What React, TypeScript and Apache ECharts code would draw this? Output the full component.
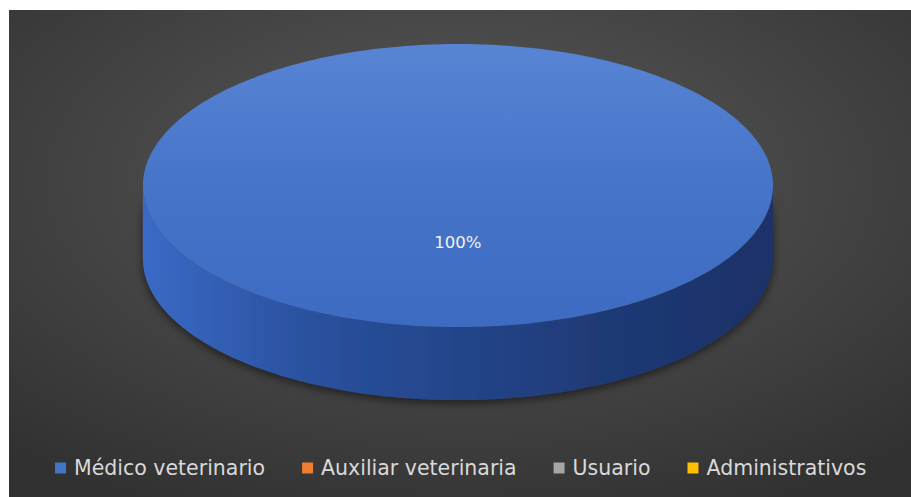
import React, { useEffect, useRef } from "react";
import * as echarts from "echarts";

const categories = ["Médico veterinario", "Auxiliar veterinaria", "Usuario", "Administrativos"];
const values = [100, 0, 0, 0];
const colors = ["#4472c4", "#ed7d31", "#a5a5a5", "#ffc000"];

// geometry of the 3D pie (fractions of chart size)
const GEO = { cx: 0.5027, cy: 0.3733, rx: 0.3458, ry: 0.2847, depth: 0.147, labelR: 0.4 };

function ellipsePts(cx: number, cy: number, rx: number, ry: number, a0: number, a1: number, dy: number) {
  const pts: number[][] = [];
  const n = Math.max(2, Math.ceil(Math.abs(a1 - a0) / (Math.PI / 180)));
  for (let i = 0; i <= n; i++) {
    const t = a0 + ((a1 - a0) * i) / n;
    pts.push([cx + rx * Math.sin(t), cy - ry * Math.cos(t) + dy]);
  }
  return pts;
}

export default function App() {
  const ref = useRef<HTMLDivElement>(null);
  useEffect(() => {
    if (!ref.current) return;
    const chart = echarts.init(ref.current, null, { renderer: "svg" });
    const total = values.reduce((s, v) => s + v, 0);
    const starts: number[] = [];
    let acc = 0;
    values.forEach((v) => {
      starts.push(acc);
      acc += v;
    });

    const makeRender = (si: number) => (params: any, api: any) => {
      const v = values[si];
      if (!v) return { type: "group", children: [] };
      const W = api.getWidth();
      const H = api.getHeight();
      const cx = GEO.cx * W, cy = GEO.cy * H, rx = GEO.rx * W, ry = GEO.ry * H, depth = GEO.depth * H;
      const a0 = (starts[si] / total) * Math.PI * 2;
      const a1 = ((starts[si] + v) / total) * Math.PI * 2;
      const children: any[] = [];
      // front side
      const f0 = Math.max(a0, Math.PI / 2);
      const f1 = Math.min(a1, (Math.PI * 3) / 2);
      if (f1 > f0) {
        const topEdge = ellipsePts(cx, cy, rx, ry, f0, f1, 0);
        const botEdge = ellipsePts(cx, cy, rx, ry, f1, f0, depth);
        children.push({
          type: "polygon",
          shape: { points: topEdge.concat(botEdge) },
          style: {
            fill: new echarts.graphic.LinearGradient(0, 0, 1, 0, [
              { offset: 0, color: "#3a6ac6" },
              { offset: 0.25, color: "#2b52a0" },
              { offset: 0.5, color: "#23458a" },
              { offset: 0.73, color: "#1f3a76" },
              { offset: 1, color: "#1c3167" },
            ]),
            shadowBlur: 10,
            shadowColor: "rgba(0,0,0,0.55)",
            shadowOffsetY: 3,
          },
        });
      }
      // top face
      const arc = ellipsePts(cx, cy, rx, ry, a0, a1, 0);
      const full = a1 - a0 >= Math.PI * 2 - 1e-6;
      children.push({
        type: "polygon",
        shape: { points: full ? arc : [[cx, cy]].concat(arc) },
        style: {
          fill: new echarts.graphic.LinearGradient(0, 0, 0, 1, [
            { offset: 0, color: "#5884d4" },
            { offset: 0.5, color: "#4674c8" },
            { offset: 1, color: "#3d6bc2" },
          ]),
        },
      });
      // label
      const mid = (a0 + a1) / 2;
      const pct = Math.round((v / total) * 100);
      children.push({
        type: "text",
        style: {
          text: pct + "%",
          x: cx + GEO.labelR * rx * Math.sin(mid),
          y: cy - GEO.labelR * ry * Math.cos(mid),
          textAlign: "center",
          textVerticalAlign: "middle",
          fill: "#f2f2f2",
          fontSize: 16.5,
          fontFamily: "DejaVu Sans",
        },
      });
      return { type: "group", children };
    };

    chart.setOption({
      animation: false,
      color: colors,
      backgroundColor: "#ffffff",
      graphic: [
        {
          type: "rect",
          left: 9,
          top: 10,
          z: 0,
          silent: true,
          shape: { width: 902, height: 487 },
          style: {
            fill: new echarts.graphic.RadialGradient(0.5, 0.35, 0.75, [
              { offset: 0, color: "#5a5a5a" },
              { offset: 1, color: "#313131" },
            ]),
          },
        },
      ],
      legend: {
        data: categories,
        left: 55,
        top: 457,
        padding: 0,
        itemWidth: 11,
        itemHeight: 11,
        itemGap: 37,
        icon: "rect",
        textStyle: {
          color: "#d9d9d9",
          fontSize: 20.5,
          fontFamily: "DejaVu Sans",
          lineHeight: 22,
          padding: [0, 0, 0, 3],
        },
        selectedMode: false,
      },
      series: categories.map((name, i) => ({
        type: "custom",
        name,
        coordinateSystem: "none",
        z: 2,
        silent: true,
        data: [values[i]],
        renderItem: makeRender(i),
      })),
    });
    return () => chart.dispose();
  }, []);
  return (
    <div
      ref={ref}
      style={{ position: "fixed", left: 0, top: 0, width: 911, height: 497 }}
    />
  );
}
